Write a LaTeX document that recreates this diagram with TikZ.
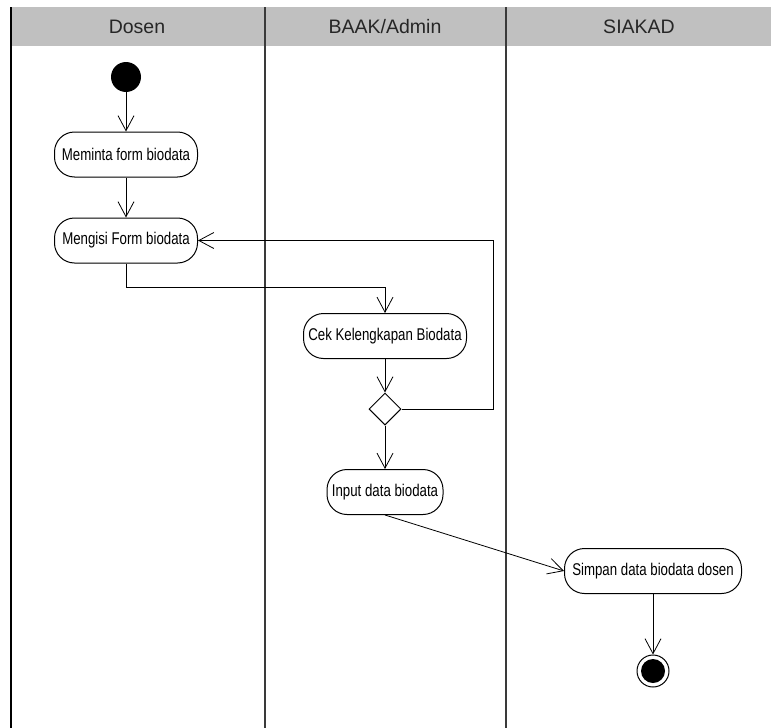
\documentclass[tikz,border=0pt]{standalone}
\usepackage{fontspec}
\setmainfont{Liberation Sans}
\newfontfamily\aksifont{Liberation Sans}[FakeStretch=0.78]
\usetikzlibrary{arrows.meta,positioning,calc,shapes.geometric}
\definecolor{lajurGrey}{HTML}{C0C0C0}
\definecolor{lajurLine}{HTML}{3A3A3A}

\begin{document}
\begin{tikzpicture}[x=1pt,y=-1pt,
  aksi/.style={draw,line width=1pt,fill=white,rounded corners=20pt,
               minimum height=45pt,inner xsep=3pt,
               font=\aksifont\fontsize{17}{19}\selectfont},
  alur/.style={line width=0.8pt,-{Straight Barb[length=15pt,width=16pt,line width=0.8pt]}},
  judul/.style={font=\fontsize{19.5}{22}\selectfont,text=black!85}]
  \useasboundingbox (0,0) rectangle (771,728);
  % swimlanes
  \fill[lajurGrey] (11,7) rectangle (771,46);
  \draw[line width=1.6pt] (11,7) -- (11,728);
  \draw[lajurLine,line width=1.6pt] (265,7) -- (265,728);
  \draw[lajurLine,line width=1.6pt] (506,7) -- (506,728);
  \node[judul] (dosen) at (137,27) {Dosen};
  \node[judul] (baak) at (385,27) {BAAK/Admin};
  \node[judul] (siakad) at (639,27) {SIAKAD};

  % activities
  \node[circle,fill=black,minimum size=30pt,inner sep=0pt] (mulai) at (126,77) {};
  \node[aksi,minimum width=143pt] (meminta) at (126,154.5) {Meminta form biodata};
  \node[aksi,minimum width=143pt] (mengisi) at (126,240.5) {Mengisi Form biodata};
  \node[aksi,minimum width=163pt] (cek) at (385,336) {Cek Kelengkapan Biodata};
  \node[diamond,draw,line width=1pt,minimum size=32pt,inner sep=0pt] (cabang) at (385,409) {};
  \node[aksi,minimum width=116pt] (input) at (385,492) {Input data biodata};
  \node[aksi,minimum width=177pt] (simpan) at (653,571) {Simpan data biodata dosen};
  \node[circle,draw,line width=1pt,fill=white,minimum size=32pt,inner sep=0pt] (akhir) at (653,671) {};
  \fill[black] (akhir.center) circle (12pt);
  \coordinate (balik) at (493,240.5);

  % flows
  \draw[alur] (mulai) -- (meminta);
  \draw[alur] (meminta) -- (mengisi);
  \draw[alur] (mengisi.south) -- ++(0,24) -| (cek.north);
  \draw[alur] (cek) -- (cabang);
  \draw[alur] (cabang.east) -| (balik) -- (mengisi.east);
  \draw[alur] (cabang) -- (input);
  \draw[alur] (input.south) -- (simpan.west);
  \draw[alur] (simpan) -- (akhir);
\end{tikzpicture}
\end{document}
